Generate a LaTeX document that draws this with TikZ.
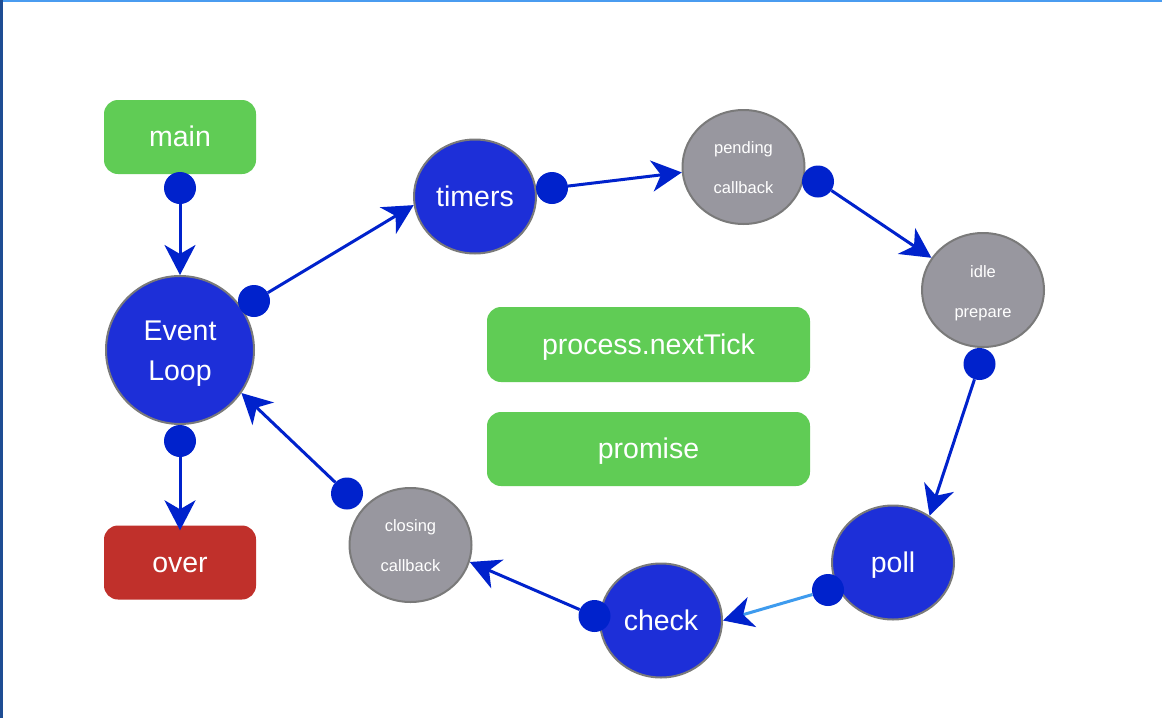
\documentclass[tikz,border=0pt]{standalone}
\usepackage{fontspec}
\setmainfont{Liberation Sans}
\usetikzlibrary{shapes.geometric,arrows.meta}
\definecolor{gfill}{HTML}{60CC55}
\definecolor{rfill}{HTML}{C0302B}
\definecolor{bfill}{HTML}{1D2FD8}
\definecolor{gyfill}{HTML}{98979F}
\definecolor{bord}{HTML}{7A7A7A}
\definecolor{edgec}{HTML}{0022CC}
\definecolor{ledge}{HTML}{3E9BEE}
\definecolor{topb}{HTML}{4A9CF0}
\definecolor{leftb}{HTML}{1E4D93}
\tikzset{
  box/.style={rectangle, rounded corners=14pt, minimum width=152pt, minimum height=74pt, inner sep=0pt, text=white, font=\fontsize{28.5}{34}\selectfont, text height=19pt, text depth=0pt},
  bignode/.style={ellipse, draw=bord, line width=2pt, fill=bfill, minimum width=122pt, minimum height=114pt, inner sep=0pt, text=white, font=\fontsize{28.5}{34}\selectfont, text height=19pt, text depth=0pt},
  graynode/.style={ellipse, draw=bord, line width=2pt, fill=gyfill, minimum width=122pt, minimum height=114pt, inner sep=0pt},
  bigtxt/.style={anchor=base, inner sep=0pt, text=white, font=\fontsize{28.5}{34}\selectfont},
  smalltxt/.style={anchor=base, inner sep=0pt, text=white, font=\fontsize{16.5}{20}\selectfont},
  dot/.style={circle, fill=edgec, minimum size=32pt, inner sep=0pt},
  edge/.style={draw=edgec, line width=3pt, -{Stealth[length=30pt,width=31pt,inset=9pt,color=edgec]}},
}
\begin{document}
\begin{tikzpicture}[x=1pt,y=-1pt]
\useasboundingbox (0,0) rectangle (1162,718);
\fill[white] (0,0) rectangle (1162,718);
\fill[topb] (0,0) rectangle (1162,2);
\fill[leftb] (0,0) rectangle (2.5,718);

% rectangles
\node[box, fill=gfill] (main) at (180,137) {main};
\node[box, fill=rfill] (over) at (180,562.5) {over};
\node[box, fill=gfill, minimum width=323pt, minimum height=75pt] (pnt) at (648.5,344.5) {process.nextTick};
\node[box, fill=gfill, minimum width=323pt] (prom) at (648.5,449) {promise};

% circles
\node[bignode, minimum width=148pt, minimum height=148pt] (el) at (180,350) {};
\node[bigtxt] (elA) at ([yshift=10pt]el.center) {Event};
\node[bigtxt] (elB) at ([yshift=-30pt]el.center) {Loop};
\node[bignode] (timers) at (475,196.5) {timers};
\node[graynode] (pend) at (743.5,167) {};
\node[smalltxt] (pendA) at ([yshift=13.5pt]pend.center) {pending};
\node[smalltxt] (pendB) at ([yshift=-26.5pt]pend.center) {callback};
\node[graynode] (idle) at (983,290) {};
\node[smalltxt] (idleA) at ([yshift=13pt]idle.center) {idle};
\node[smalltxt] (idleB) at ([yshift=-27pt]idle.center) {prepare};
\node[bignode] (poll) at (893,562.5) {poll};
\node[bignode] (check) at (661,620.5) {check};
\node[graynode] (closing) at (410.5,545) {};
\node[smalltxt] (closA) at ([yshift=13.5pt]closing.center) {closing};
\node[smalltxt] (closB) at ([yshift=-26pt]closing.center) {callback};

% dots
\node[dot] (d1) at (180,188) {};
\node[dot] (d2) at (254,301) {};
\node[dot] (d3) at (180,441) {};
\node[dot] (d4) at (552,188) {};
\node[dot] (d5) at (818,181.5) {};
\node[dot] (d6) at (979.5,364) {};
\node[dot] (d7) at (828,590) {};
\node[dot] (d8) at (594.5,616) {};
\node[dot] (d9) at (347,493.5) {};

% edges
\draw[edge] (d1) -- (el.north);
\draw[edge] (d2) -- (timers.188);
\draw[edge] (d4) -- (pend.185);
\draw[edge] (d5) -- (idle.148);
\draw[edge] (d6) -- (poll.52);
\draw[edge, draw=ledge] (d7) -- (check.east);
\draw[edge] (d8) -- (closing.344);
\draw[edge] (d9) -- (el.325);
\draw[edge] (d3) -- ([yshift=-5pt]over.north);
\end{tikzpicture}
\end{document}
